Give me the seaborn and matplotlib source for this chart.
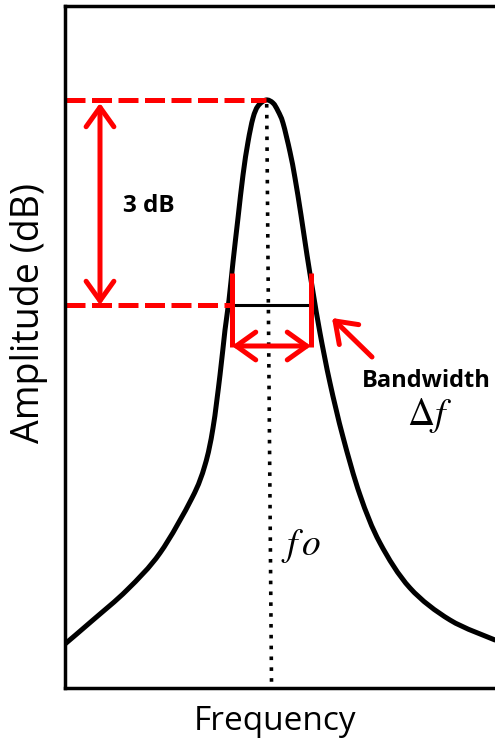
import matplotlib
matplotlib.use("Agg")
import matplotlib.pyplot as plt
from matplotlib.patches import ArrowStyle, PathPatch
from matplotlib.path import Path
import numpy as np
import pandas as pd
import seaborn as sns

# Resonance curve, frequency vs amplitude (arbitrary units)
freq = [0, 28, 62, 95, 127, 140, 148, 155, 160, 164, 168, 173, 178, 183,
        188, 193, 201, 208, 213, 218, 225, 230, 236, 242, 248, 255, 265, 278,
        295, 315, 345, 385, 430]
amp = [44, 68, 98, 135, 190, 223, 260, 313, 358, 388, 426, 470, 513, 546,
       570, 582, 588, 585, 577, 565, 536, 510, 473, 433, 396, 355, 305, 251,
       193, 145, 100, 68, 48]

# Key levels and frequencies
amp_peak = 588
amp_3db = 383
f_low = 167
f_high = 246
f0_top, f0_bottom = 201.7, 206.5
db_label = "3 dB"
bw_label = "Bandwidth"

sns.set_theme(style="white")
plt.rcParams["font.family"] = ["Open Sans", "DejaVu Sans"]
plt.rcParams["mathtext.fontset"] = "stix"

W, H = 495, 742
fig = plt.figure(figsize=(W / 100, H / 100), dpi=100)
ax = fig.add_axes([65 / W, (H - 688) / H, 435 / W, 682 / H])
ax.set_xlim(0, 435)
ax.set_ylim(0, 682)


def smooth_path(xs, ys):
    """Cubic Bezier path passing through every (x, y) point (Catmull-Rom)."""
    p = np.column_stack([xs, ys]).astype(float)
    ext = np.vstack([p[0], p, p[-1]])
    verts = [p[0]]
    codes = [Path.MOVETO]
    for i in range(len(p) - 1):
        p0, p1, p2, p3 = ext[i], ext[i + 1], ext[i + 2], ext[i + 3]
        c1 = p1 + (p2 - p0) / 6.0
        c2 = p2 - (p3 - p1) / 6.0
        verts += [c1, c2, p2]
        codes += [Path.CURVE4] * 3
    return Path(verts, codes)


ax.add_patch(PathPatch(smooth_path(freq, amp), facecolor="none",
                       edgecolor="black", lw=3.6, joinstyle="round",
                       capstyle="round"))

red = "#FF0000"
# dashed level lines
levels = pd.DataFrame({
    "Frequency": [0, f0_top - 1, 0, f_low],
    "Amplitude": [amp_peak, amp_peak, amp_3db, amp_3db],
    "level": ["peak", "peak", "cut", "cut"],
})
sns.lineplot(data=levels, x="Frequency", y="Amplitude", units="level",
             estimator=None, sort=False, color=red, lw=3.6, ax=ax,
             dashes=(4, 1.3), dash_capstyle="butt")

# centre frequency marker
centre = pd.DataFrame({"Frequency": [f0_top, f0_bottom],
                       "Amplitude": [amp_peak - 4, 6]})
sns.lineplot(data=centre, x="Frequency", y="Amplitude", sort=False,
             color="black", lw=2.6, ax=ax, dashes=(1, 2.0),
             dash_capstyle="butt")

# bandwidth bar
ax.plot([f_low, f_high], [amp_3db, amp_3db], color="black", lw=2.2)
for f in (f_low, f_high):
    ax.plot([f, f], [341, 415], color=red, lw=3.6, solid_capstyle="butt")

arrow_style = ArrowStyle("<->", head_length=1.4, head_width=1.0)
ax.annotate("", xy=(35, amp_peak - 3), xytext=(35, amp_3db),
            arrowprops=dict(arrowstyle=arrow_style, mutation_scale=10, lw=3.6,
                            color=red, shrinkA=0, shrinkB=0))
ax.annotate("", xy=(f_low, 342), xytext=(f_high, 342),
            arrowprops=dict(arrowstyle=arrow_style, mutation_scale=10, lw=3.6,
                            color=red, shrinkA=0, shrinkB=0))
ax.annotate("", xy=(267, 370), xytext=(307, 331),
            arrowprops=dict(arrowstyle=ArrowStyle("->", head_length=1.4, head_width=1.0),
                            mutation_scale=10, lw=3.6, color=red,
                            shrinkA=0, shrinkB=0))

ax.text(58, 482, db_label, fontsize=17.5, fontweight="bold", ha="left",
        va="center", color="black")
ax.text(361, 307, bw_label, fontsize=17, fontweight="bold", ha="center",
        va="center", color="black")
ax.text(364, 263, r"$\Delta f$", fontsize=27, ha="center", va="baseline",
        color="black")
ax.text(236, 133, r"$f\,o$", fontsize=27, ha="center", va="baseline",
        color="black")

ax.set_xlabel("")
ax.set_ylabel("")
ax.set_xticks([])
ax.set_yticks([])
for side in ("left", "bottom", "top"):
    ax.spines[side].set_color("black")
    ax.spines[side].set_linewidth(2.5)
ax.spines["right"].set_visible(False)

fig.text(275 / W, 1 - 722 / H, "Frequency", fontsize=24, ha="center",
         va="center", color="black")
fig.text(29 / W, 1 - 313 / H, "Amplitude (dB)", fontsize=27, rotation=90,
         ha="center", va="center", color="black")

fig.savefig("out.png", dpi=100)
